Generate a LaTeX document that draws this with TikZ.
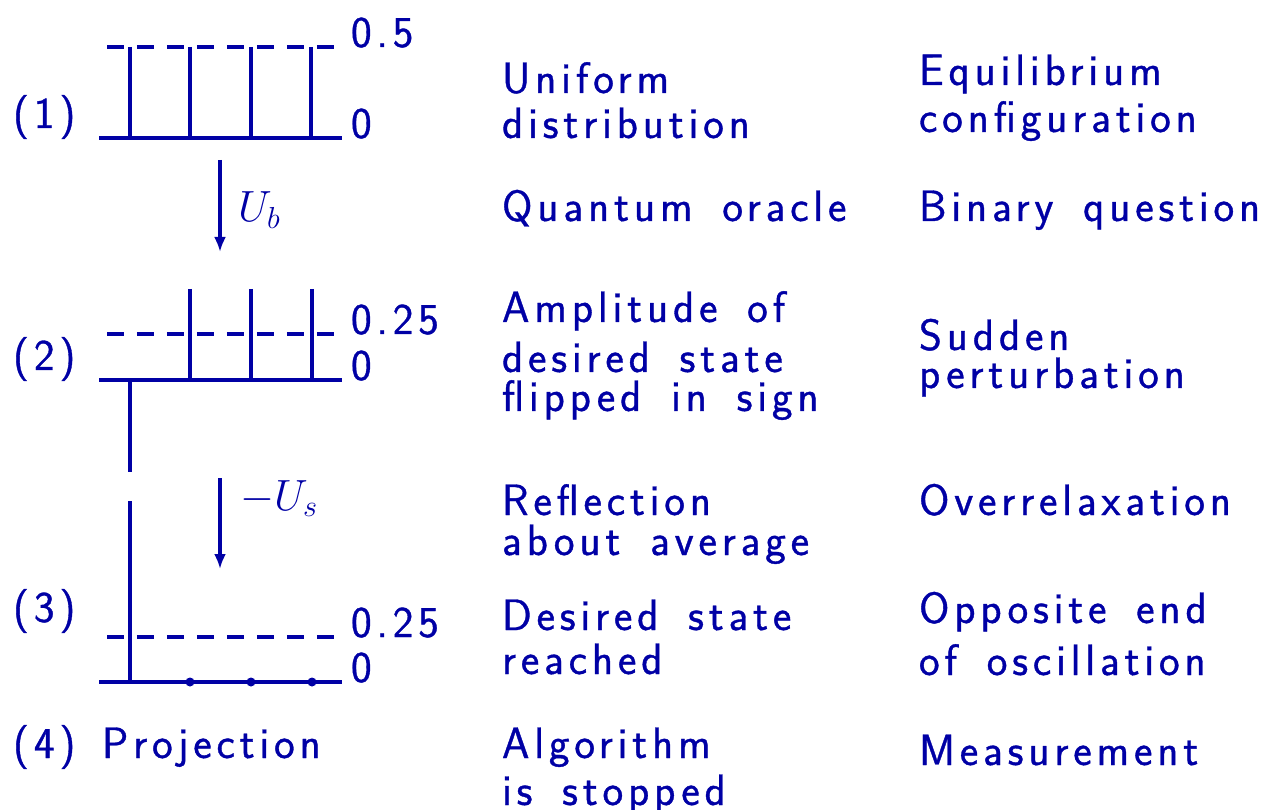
\documentclass[tikz,border=0pt]{standalone}
\usepackage{fontspec}
\newfontfamily\lms{Latin Modern Sans}[LetterSpace=11,FakeBold=0.8,WordSpace=1.6]
\usetikzlibrary{arrows.meta}
\definecolor{ink}{RGB}{0,0,165}
\begin{document}
\begin{tikzpicture}[x=0.02cm,y=-0.02cm,line width=1.9pt,draw=ink,
  txt/.style={anchor=base west,inner sep=0pt,outer sep=0pt,font=\fontsize{25}{27}\selectfont\lms,text=ink},
  mth/.style={anchor=base west,inner sep=0pt,outer sep=0pt,font=\fontsize{24}{26}\selectfont,text=ink},
  dashline/.style={dash pattern=on 0.34cm off 0.26cm},
  flow/.style={-{Latex[length=0.3cm,width=0.24cm]}},
  dot/.style={circle,fill=ink,inner sep=0pt,minimum size=0.18cm}]
\useasboundingbox (0,0) rectangle (1277,810);
% ---- panel 1
\draw (99,138) -- (342,138);
\draw[dashline] (107,47) -- (335,47);
\foreach \x in {130,190,251,311} \draw (\x,47) -- (\x,138);
\node[txt] (p1a) at (351,47) {0.5};
\node[txt] (p1b) at (351,138) {0};
\node[txt] (s1) at (13,128) {(1)};
% ---- arrow 1
\coordinate (a1s) at (220,160);
\coordinate (a1e) at (220,252);
\draw[flow] (a1s) -- (a1e);
\node[mth] (ub) at (238,222) {$U_b$};
% ---- panel 2
\draw (99,380) -- (342,380);
\draw[dashline] (107,334) -- (335,334);
\foreach \x in {190,251,312} \draw (\x,289) -- (\x,380);
\draw (130,380) -- (130,472);
\node[txt] (p2a) at (351,334) {0.25};
\node[txt] (p2b) at (351,380) {0};
\node[txt] (s2) at (13,370) {(2)};
% ---- arrow 2
\coordinate (a2s) at (220,478);
\coordinate (a2e) at (220,569);
\draw[flow] (a2s) -- (a2e);
\node[mth] (us) at (240,510) {$-U_s$};
% ---- panel 3
\draw (99,682) -- (342,682);
\draw[dashline] (107,637) -- (335,637);
\draw (130,501) -- (130,682);
\foreach \x/\n in {190/d1,251/d2,312/d3} \node[dot] (\n) at (\x,682) {};
\node[txt] (p3a) at (351,637) {0.25};
\node[txt] (p3b) at (351,682) {0};
\node[txt] (s3) at (13,622) {(3)};
% ---- step 4
\node[txt] (s4) at (13,758) {(4)};
\node[txt] (proj) at (102,758) {Projection};
% ---- column 2
\node[txt] (c2a) at (502,93) {Uniform};
\node[txt] (c2b) at (502,138) {distribution};
\node[txt] (c2c) at (502,221) {Quantum oracle};
\node[txt] (c2d) at (502,322) {Amplitude of};
\node[txt] (c2e) at (502,372) {desired state};
\node[txt] (c2f) at (502,411) {flipped in sign};
\node[txt] (c2g) at (502,515) {Reflection};
\node[txt] (c2h) at (502,555) {about average};
\node[txt] (c2i) at (502,630) {Desired state};
\node[txt] (c2j) at (502,674) {reached};
\node[txt] (c2k) at (502,758) {Algorithm};
\node[txt] (c2l) at (502,805) {is stopped};
% ---- column 3
\node[txt] (c3a) at (919,85) {Equilibrium};
\node[txt] (c3b) at (919,132) {configuration};
\node[txt] (c3c) at (919,221) {Binary question};
\node[txt] (c3d) at (919,350) {Sudden};
\node[txt] (c3e) at (919,388) {perturbation};
\node[txt] (c3f) at (919,515) {Overrelaxation};
\node[txt] (c3g) at (919,623) {Opposite end};
\node[txt] (c3h) at (919,675) {of oscillation};
\node[txt] (c3i) at (919,765) {Measurement};
\end{tikzpicture}
\end{document}
